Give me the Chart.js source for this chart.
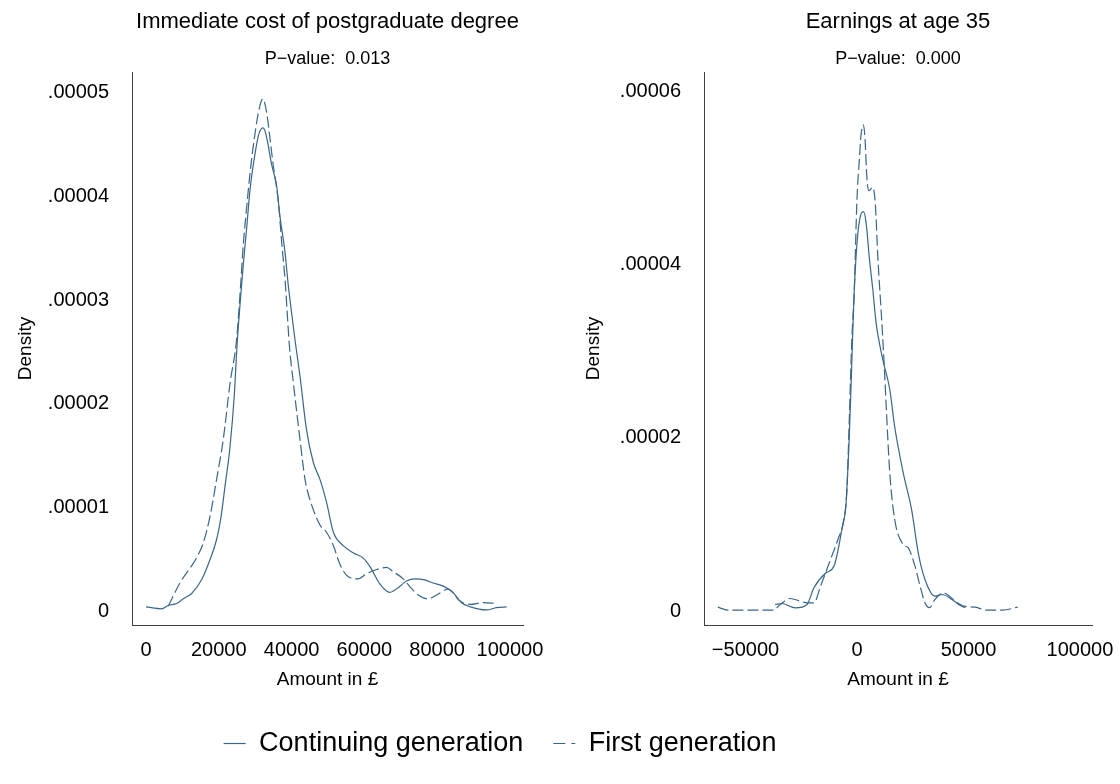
<!DOCTYPE html>
<html>
<head>
<meta charset="utf-8">
<title>Postgraduate cost and earnings densities</title>
<script src="https://cdn.jsdelivr.net/npm/chart.js@4.4.1/dist/chart.umd.min.js"></script>
<style>
  html, body { margin: 0; padding: 0; background: #ffffff; overflow: hidden; }
  #page { position: relative; width: 1120px; height: 784px; }
  .panel { position: absolute; }
</style>
</head>
<body>
<div id="page">
  <div class="panel" style="left:0;top:0;width:560px;height:700px;"><canvas id="costChart"></canvas></div>
  <div class="panel" style="left:560px;top:0;width:560px;height:700px;"><canvas id="earnChart"></canvas></div>
  <div class="panel" style="left:0;top:700px;width:1000px;height:84px;"><canvas id="legendChart"></canvas></div>
</div>
<script>
// Panel 1: immediate cost of postgraduate degree (amount in £, kernel density)
var costContX = [0, 4300, 6100, 8400, 10250, 12550, 15300, 17600, 19400, 20500, 21700, 23100, 24300, 25000,
  25800, 26700, 27700, 28600, 30000, 31000, 32100, 32800, 33600, 34500, 35900, 36800, 38200, 39100, 40000,
  41000, 42300, 44100, 46000, 47800, 49600, 51500, 54200, 57000, 59700, 61500, 64300, 67000, 69300, 71600,
  73900, 76600, 78900, 81700, 84400, 86700, 89000, 93600, 96300, 99100];
var costContY = [4.0e-7, 2.1e-7, 5.3e-7, 7.2e-7, 1.18e-6, 1.69e-6, 3.04e-6, 4.97e-6, 6.9e-6, 8.83e-6, 1.2e-5, 1.59e-5, 2.1e-5, 2.56e-5,
  2.94e-5, 3.33e-5, 3.71e-5, 4.07e-5, 4.42e-5, 4.6e-5, 4.66e-5, 4.62e-5, 4.49e-5, 4.31e-5, 4.10e-5, 3.81e-5, 3.46e-5, 3.14e-5, 2.88e-5,
  2.6e-5, 2.27e-5, 1.75e-5, 1.43e-5, 1.27e-5, 1.05e-5, 7.6e-6, 6.3e-6, 5.6e-6, 5.1e-6, 4.3e-6, 2.6e-6, 1.8e-6, 2.25e-6, 2.9e-6,
  3.1e-6, 3.0e-6, 2.7e-6, 2.4e-6, 1.77e-6, 8e-7, 4.2e-7, 1e-7, 3.2e-7, 4e-7];
var costFirstX = [6100, 9340, 13900, 15750, 17600, 19400, 21250, 23100, 24900, 26000, 26700, 27700, 28600, 29500,
  30900, 32100, 33150, 34100, 35000, 36400, 37300, 38200, 38800, 39400, 40500, 42300, 43700, 45000, 47800,
  49600, 51500, 53300, 55600, 58300, 60600, 63400, 66100, 67900, 70700, 72500, 74800, 77500, 79900, 83000,
  86300, 89000, 92700, 95900];
var costFirstY = [4.6e-7, 2.72e-6, 5.13e-6, 6.58e-6, 9.15e-6, 1.27e-5, 1.66e-5, 2.2e-5, 2.62e-5, 3.14e-5, 3.52e-5, 3.91e-5, 4.23e-5, 4.49e-5,
  4.81e-5, 4.94e-5, 4.81e-5, 4.55e-5, 4.29e-5, 3.94e-5, 3.55e-5, 3.2e-5, 2.88e-5, 2.56e-5, 2.2e-5, 1.66e-5, 1.27e-5, 1.08e-5, 8.3e-6,
  7.6e-6, 6.3e-6, 4.5e-6, 3.3e-6, 3.1e-6, 3.6e-6, 4.0e-6, 4.2e-6, 3.8e-6, 3.1e-6, 2.35e-6, 1.55e-6, 1.17e-6, 1.55e-6, 2.1e-6,
  9.6e-7, 6.4e-7, 8e-7, 7.4e-7];
var costXTicks = [0, 20000, 40000, 60000, 80000, 100000];
var costYTicks = [0, 0.00001, 0.00002, 0.00003, 0.00004, 0.00005];

// Panel 2: earnings at age 35
var earnContX = [-36700, -33700, -27600, -22400, -19300, -14000, -10300, -6500, -5000, -3500, -2700, -2000, -1200,
  300, 1800, 2900, 4100, 5600, 7100, 8600, 9800, 11600, 14700, 16900, 20700, 24500, 27500, 30500, 35000,
  38100, 42600, 46400, 48500];
var earnContY = [7.7e-7, 8.8e-7, 3.8e-7, 7.7e-7, 2.7e-6, 4.4e-6, 5.2e-6, 9.8e-6, 1.21e-5, 1.98e-5, 2.56e-5, 3.13e-5, 3.71e-5,
  4.33e-5, 4.58e-5, 4.61e-5, 4.48e-5, 4.06e-5, 3.71e-5, 3.32e-5, 3.13e-5, 2.9e-5, 2.56e-5, 2.13e-5, 1.6e-5, 1.17e-5, 6.7e-6, 3.65e-6, 1.73e-6,
  1.92e-6, 1.35e-6, 6.5e-7, 4e-7];
var earnFirstX = [-62400, -57900, -51100, -43500, -37500, -34400, -29900, -25400, -22400, -19300, -16300, -11800, -8500,
  -6000, -4500, -3500, -2300, -1200, 0, 1100, 1800, 2900, 3600, 4500, 5300, 7100, 8200, 9400, 10900, 12100,
  13100, 14700, 16900, 20700, 23000, 26000, 28300, 30500, 32500, 35000, 38800, 41100, 44100, 47900, 53200,
  57700, 65300, 72100];
var earnFirstY = [4.6e-7, 1.2e-7, 1.2e-7, 1.2e-7, 1.2e-7, 7.7e-7, 1.46e-6, 1.15e-6, 9.6e-7, 9.6e-7, 2.9e-6, 6e-6, 8.3e-6,
  1.04e-5, 1.4e-5, 2.17e-5, 3.13e-5, 3.71e-5, 4.75e-5, 5.22e-5, 5.49e-5, 5.61e-5, 5.45e-5, 4.98e-5, 4.85e-5, 4.89e-5, 4.71e-5, 4.06e-5, 3.44e-5, 2.9e-5,
  2.37e-5, 1.6e-5, 1.06e-5, 7.7e-6, 7.3e-6, 5.2e-6, 2.9e-6, 9.6e-7, 4e-7, 1.35e-6, 2.1e-6, 1.8e-6, 1.15e-6, 5.8e-7, 4.6e-7,
  1.2e-7, 1.2e-7, 4.6e-7];
var earnXTicks = [-50000, 0, 50000, 100000];
var earnYTicks = [0, 0.00002, 0.00004, 0.00006];

var seriesLabels = ['Continuing generation', 'First generation'];
var panelTitles = ['Immediate cost of postgraduate degree', 'Earnings at age 35'];
var panelPValues = ['P\u2212value:  0.013', 'P\u2212value:  0.000'];

var LINE_COLOR = '#3a6689';
var AXIS_COLOR = '#404040';
var FONT = "'Liberation Sans', Arial, Helvetica, sans-serif";
var DASH = [11, 4];
var LEGEND_DASH = [12, 6];

Chart.defaults.font.family = FONT;
Chart.defaults.color = '#000000';
Chart.defaults.animation = false;

function toPoints(xs, ys) {
  return xs.map(function(x, i) { return { x: x, y: ys[i] }; });
}

function formatDensity(value) {
  if (value === 0) return '0';
  return value.toFixed(5).replace(/^0/, '');
}

function formatAmount(value) {
  return value < 0 ? '\u2212' + Math.abs(value) : String(value);
}

function fixTicks(values) {
  return function(scale) {
    scale.ticks = values.map(function(v) { return { value: v }; });
  };
}

function buildPanel(canvasId, cfg) {
  var ctx = document.getElementById(canvasId).getContext('2d');
  return new Chart(ctx, {
    type: 'line',
    data: {
      datasets: [
        {
          label: seriesLabels[0],
          data: toPoints(cfg.contX, cfg.contY),
          borderColor: LINE_COLOR,
          borderWidth: 1.2,
          pointRadius: 0,
          cubicInterpolationMode: 'monotone',
          fill: false
        },
        {
          label: seriesLabels[1],
          data: toPoints(cfg.firstX, cfg.firstY),
          borderColor: LINE_COLOR,
          borderWidth: 1.2,
          borderDash: DASH,
          pointRadius: 0,
          cubicInterpolationMode: 'monotone',
          fill: false
        }
      ]
    },
    options: {
      responsive: true,
      maintainAspectRatio: false,
      layout: { padding: { top: 0, right: cfg.padRight, bottom: 0, left: 0 } },
      plugins: {
        legend: { display: false },
        tooltip: { enabled: false },
        title: {
          display: true,
          fullSize: false,
          text: cfg.title,
          font: { size: 22, weight: 'normal' },
          color: '#000000',
          padding: { top: 9, bottom: 0 }
        },
        subtitle: {
          display: true,
          fullSize: false,
          text: cfg.pValue,
          font: { size: 18, weight: 'normal' },
          color: '#000000',
          padding: { top: 13, bottom: 2 }
        }
      },
      scales: {
        x: {
          type: 'linear',
          min: cfg.xMin,
          max: cfg.xMax,
          grid: { display: false },
          border: { display: true, color: AXIS_COLOR, width: 1 },
          afterBuildTicks: fixTicks(cfg.xTicks),
          afterFit: function(scale) {
            scale.height = 75;
            scale.paddingLeft = 0;
            scale.paddingRight = 0;
          },
          ticks: {
            font: { size: 20 },
            color: '#000000',
            padding: 5,
            maxRotation: 0,
            autoSkip: false,
            callback: formatAmount
          },
          title: {
            display: true,
            text: 'Amount in \u00a3',
            font: { size: 19 },
            color: '#000000',
            padding: { top: 0, bottom: 9 }
          }
        },
        y: {
          min: cfg.yMin,
          max: cfg.yMax,
          grid: { display: false },
          border: { display: true, color: AXIS_COLOR, width: 1 },
          afterBuildTicks: fixTicks(cfg.yTicks),
          afterFit: function(scale) {
            scale.width = cfg.yWidth;
          },
          ticks: {
            font: { size: 20 },
            color: '#000000',
            padding: 15,
            autoSkip: false,
            callback: formatDensity
          },
          title: {
            display: true,
            text: 'Density',
            font: { size: 19 },
            color: '#000000',
            padding: { top: cfg.yTitlePad, bottom: 0 }
          }
        }
      }
    }
  });
}

buildPanel('costChart', {
  title: panelTitles[0],
  pValue: panelPValues[0],
  contX: costContX, contY: costContY,
  firstX: costFirstX, firstY: costFirstY,
  xTicks: costXTicks, yTicks: costYTicks,
  xMin: -3850, xMax: 103600,
  yMin: -0.00000135, yMax: 0.000052,
  yWidth: 132, yTitlePad: 14, padRight: 37
});

buildPanel('earnChart', {
  title: panelTitles[1],
  pValue: panelPValues[1],
  contX: earnContX, contY: earnContY,
  firstX: earnFirstX, firstY: earnFirstY,
  xTicks: earnXTicks, yTicks: earnYTicks,
  xMin: -68600, xMax: 105400,
  yMin: -0.0000016, yMax: 0.0000622,
  yWidth: 144, yTitlePad: 22, padRight: 28
});

// Shared legend underneath both panels
new Chart(document.getElementById('legendChart').getContext('2d'), {
  type: 'line',
  data: {
    datasets: [
      { label: seriesLabels[0], data: [], borderColor: LINE_COLOR, borderWidth: 1.2 },
      { label: seriesLabels[1], data: [], borderColor: LINE_COLOR, borderWidth: 1.2, borderDash: LEGEND_DASH }
    ]
  },
  options: {
    responsive: true,
    maintainAspectRatio: false,
    scales: { x: { display: false }, y: { display: false } },
    plugins: {
      tooltip: { enabled: false },
      legend: {
        display: true,
        position: 'top',
        maxHeight: 84,
        onClick: null,
        labels: {
          usePointStyle: true,
          pointStyle: 'line',
          pointStyleWidth: 22,
          padding: 30,
          color: '#000000',
          font: { size: 27 },
          // point-style samples lose the dataset dash, so copy it back
          generateLabels: function(chart) {
            var items = Chart.defaults.plugins.legend.labels.generateLabels(chart);
            items.forEach(function(item, i) {
              item.lineDash = chart.data.datasets[i].borderDash || [];
              item.strokeStyle = LINE_COLOR;
              item.lineWidth = 1.2;
            });
            return items;
          }
        }
      }
    }
  }
});
</script>
</body>
</html>
